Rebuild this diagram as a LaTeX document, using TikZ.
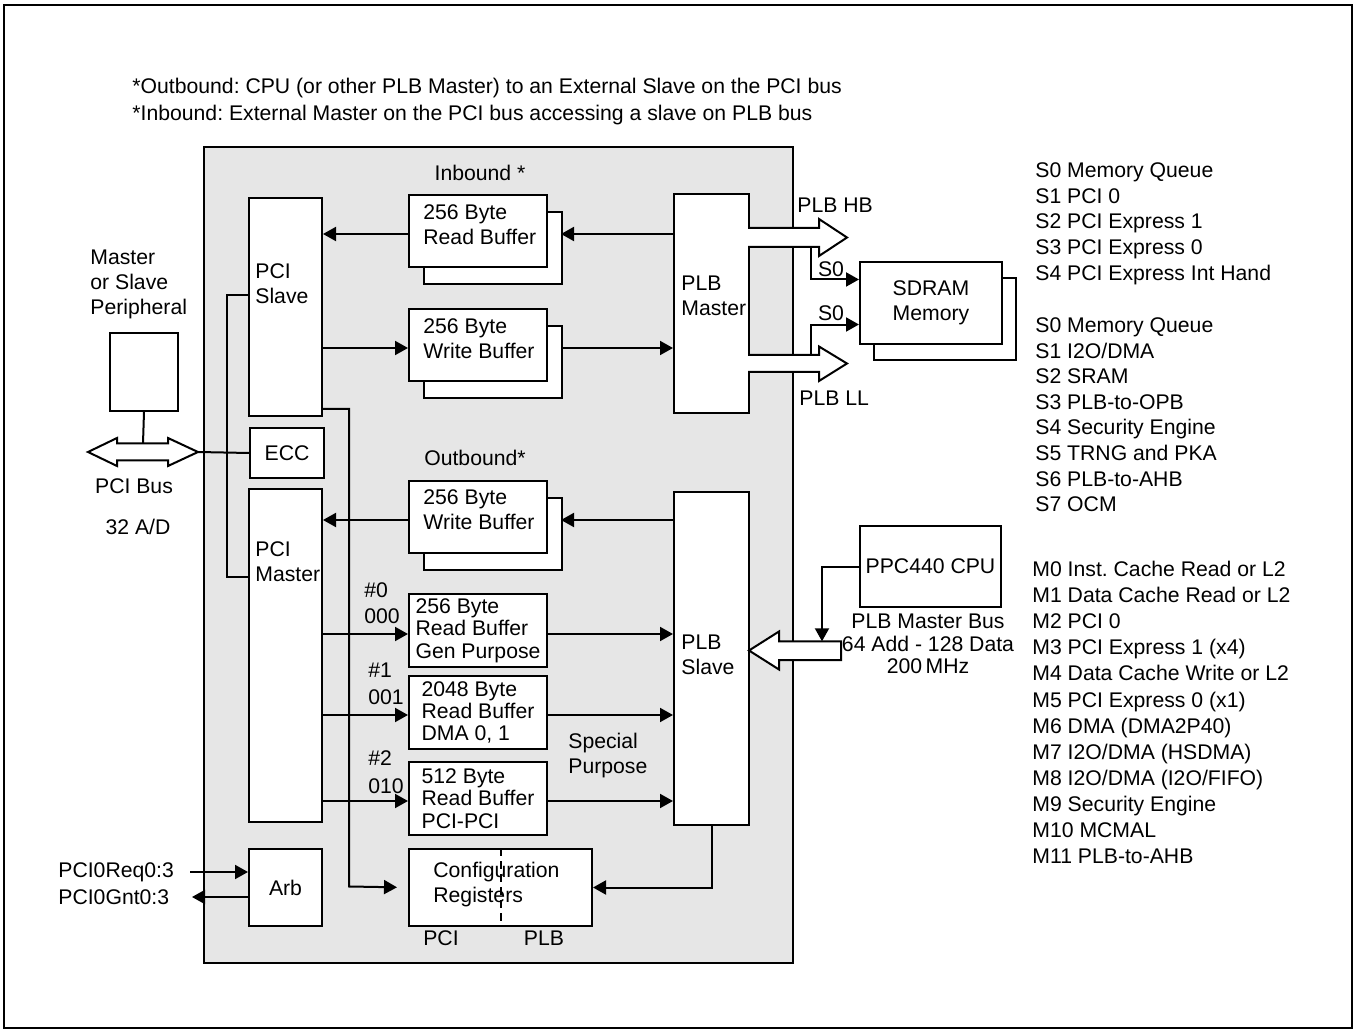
\documentclass[tikz,border=0pt]{standalone}
\usepackage{fontspec}
\setmainfont{Liberation Sans}
\usetikzlibrary{arrows.meta,positioning,shadows,calc}
\definecolor{panel}{HTML}{E6E6E6}
\frenchspacing
\newdimen\px
\px=0.5pt
\newcommand\diagfont{\fontsize{10.6}{12.5}\selectfont}
\newcommand\tightfont{\fontsize{10.6}{11.2}\selectfont}
\tikzset{
  blk/.style={rectangle, draw=black, fill=white, line width=1pt, inner sep=0pt, anchor=north west},
  bufbox/.style={blk, minimum width=138\px, minimum height=72\px,
                 copy shadow={shadow xshift=7.5pt, shadow yshift=-8.5pt, draw=black, fill=white, line width=1pt}},
  rdbuf/.style={blk, minimum width=138\px, minimum height=73\px, align=left, font=\tightfont},
  txt/.style={inner sep=0pt, align=left},
  flow/.style={-{Triangle[length=6.5pt,width=7pt]}, line width=1pt},
  wire/.style={line width=1pt},
  bus/.style={draw=black, fill=white, line width=1pt}
}

\begin{document}
\begin{tikzpicture}[x=0.5pt, y=-0.5pt, font=\diagfont]
  \useasboundingbox (0,0) rectangle (1356,1032);
  \draw[line width=1.2pt] (4,5) rectangle (1352,1028);

  % notes
  \node[txt, anchor=west] (noteout) at (132,88) {*Outbound: CPU (or other PLB Master) to an External Slave on the PCI bus};
  \node[txt, anchor=west] (notein) at (132,115) {*Inbound: External Master on the PCI bus accessing a slave on PLB bus};

  % chip
  \node[blk, fill=panel, minimum width=589\px, minimum height=816\px] (chip) at (203,146) {};

  % PCI side
  \node[blk, minimum width=73\px, minimum height=218\px] (pcis) at (248,197) {};
  \node[blk, minimum width=74\px, minimum height=50\px] (ecc) at (249,427) {ECC};
  \node[blk, minimum width=73\px, minimum height=333\px] (pcim) at (248,488) {};
  \node[blk, minimum width=73\px, minimum height=77\px] (arb) at (248,848) {Arb};
  \node[txt, anchor=west] (pcistxt) at (255,284) {PCI\\Slave};
  \node[txt, anchor=west] (pcimtxt) at (255,562) {PCI\\Master};

  % PLB side
  \node[blk, minimum width=75\px, minimum height=219\px] (plbm) at (673,193) {};
  \node[blk, minimum width=75\px, minimum height=333\px] (plbs) at (673,491) {};
  \node[txt, anchor=west] (plbmtxt) at (681,296) {PLB\\Master};
  \node[txt, anchor=west] (plbstxt) at (681,655) {PLB\\Slave};

  % buffers
  \node[txt] (inlbl) at (480,173) {Inbound *};
  \node[bufbox] (inrd) at (408,194) {};
  \node[bufbox] (inwr) at (408,308) {};
  \node[txt] (outlbl) at (475,458) {Outbound*};
  \node[bufbox] (outwr) at (408,480) {};
  \node[txt, anchor=west] (inrdtxt) at (423,224.5) {256 Byte\\Read Buffer};
  \node[txt, anchor=west] (inwrtxt) at (423,339) {256 Byte\\Write Buffer};
  \node[txt, anchor=west] (outwrtxt) at (423,509.5) {256 Byte\\Write Buffer};
  \node[rdbuf] (rb0) at (408,593) {256 Byte\\Read Buffer\\Gen Purpose};
  \node[rdbuf] (rb1) at (408,675) {2048 Byte\\Read Buffer\\DMA 0, 1};
  \node[rdbuf] (rb2) at (408,761) {512 Byte\\Read Buffer\\PCI-PCI};
  \node[txt, anchor=west] (n0) at (364,590) {\#0};
  \node[txt, anchor=west] (c0) at (364,616) {000};
  \node[txt, anchor=west] (n1) at (368,670) {\#1};
  \node[txt, anchor=west] (c1) at (368,697) {001};
  \node[txt, anchor=west] (n2) at (368,758) {\#2};
  \node[txt, anchor=west] (c2) at (368,786) {010};
  \node[txt, anchor=west] (spec) at (568,756) {Special\\Purpose};

  % config registers
  \node[blk, minimum width=183\px, minimum height=77\px] (cfg) at (408,848) {};
  \node[txt, anchor=west] (cfgtxt) at (433,884.5) {Configuration\\Registers};
  \draw[line width=1pt, dash pattern=on 4pt off 2.5pt] (cfg.north) -- (cfg.south);
  \node[txt] (cfgpci) at (441,938) {PCI};
  \node[txt] (cfgplb) at (544,938) {PLB};

  % outside
  \node[blk, minimum width=142\px, minimum height=82\px, align=center,
        copy shadow={shadow xshift=7pt, shadow yshift=-8pt, draw=black, fill=white, line width=1pt}] (sdram) at (859,261) {SDRAM\\Memory};
  \node[blk, minimum width=141\px, minimum height=81\px] (cpu) at (859,525) {PPC440 CPU};
  \node[blk, minimum width=68\px, minimum height=78\px] (periph) at (109,332) {};
  \node[txt, anchor=west] (periphtxt) at (90,284) {Master\\or Slave\\Peripheral};
  \node[txt] (pcibus) at (134,486) {PCI Bus};
  \node[txt] (pciad) at (138,527) {32 A/D};
  \node[txt, align=center, font=\fontsize{10.6}{11.2}\selectfont] (cpubus) at (928,644) {PLB Master Bus\\64 Add - 128 Data\\200\,MHz};
  \node[txt, anchor=west] (reqlbl) at (58,872) {PCI0Req0:3};
  \node[txt, anchor=west] (gntlbl) at (58,897) {PCI0Gnt0:3};

  % wide buses
  \draw[bus] (88,452) -- (117,438) -- (117,443.5) -- (168,443.5) -- (168,438) -- (198,452)
    -- (168,466) -- (168,460.5) -- (117,460.5) -- (117,466) -- cycle;
  \draw[bus] (748,228) -- (819,228) -- (819,219) -- (847,237.5) -- (819,256) -- (819,247) -- (748,247);
  \draw[bus] (748,355) -- (819,355) -- (819,346.5) -- (847,363.5) -- (819,381) -- (819,372) -- (748,372);
  \draw[bus] (749,650.5) -- (779,631.5) -- (779,641.3) -- (841,641.3) -- (841,660) -- (779,660) -- (779,669.5) -- cycle;
  \node[txt, anchor=west] (hblbl) at (797,205) {PLB HB};
  \node[txt, anchor=west] (lllbl) at (799,398) {PLB LL};
  \node[txt, anchor=south] (s0a) at (831,277) {S0};
  \node[txt, anchor=south] (s0b) at (831,321) {S0};

  \coordinate (bustop) at (143,443.5);
  \coordinate (busend) at (198,452);
  \coordinate (hbtap) at (811,247);
  \coordinate (lltap) at (811,355);
  \coordinate (cputap) at (822,641.3);
  \coordinate (reqin) at (190,872);
  \coordinate (gntout) at (192,897);

  % connectors
  \draw[wire] (periph.south) -- (bustop);
  \draw[wire] (busend) -- (ecc.west);
  \draw[wire] ($(pcis.north west)!0.445!(pcis.south west)$) -| (227,452) |- ($(pcim.north west)!0.267!(pcim.south west)$);
  \draw[flow, shorten >=11\px] ($(pcis.north east)!0.963!(pcis.south east)$) -| (349,886.5) -- (cfg.west);
  \draw[flow] (plbs.south) |- (cfg.east);
  \draw[flow] (plbm.west |- 0,234) -- +(-112,0);
  \draw[flow] (inrd.west |- 0,234) -- (pcis.east |- 0,234);
  \draw[flow] (pcis.east |- 0,348) -- (inwr.west |- 0,348);
  \draw[flow] ($(inwr.east |- 0,348)+(14,0)$) -- (plbm.west |- 0,348);
  \draw[flow] (plbs.west |- 0,520) -- +(-112,0);
  \draw[flow] (outwr.west |- 0,520) -- (pcim.east |- 0,520);
  \foreach \b/\y in {rb0/634, rb1/715, rb2/801} {
    \draw[flow] (pcim.east |- 0,\y) -- (\b.west |- 0,\y);
    \draw[flow] (\b.east |- 0,\y) -- (plbs.west |- 0,\y);
  }
  \draw[flow] (hbtap) |- ($(sdram.north west)!0.22!(sdram.south west)$);
  \draw[flow] (lltap) |- ($(sdram.north west)!0.756!(sdram.south west)$);
  \draw[flow] (cpu.west) -| (cputap);
  \draw[flow] (reqin) -- (arb.west |- reqin);
  \draw[flow] (arb.west |- gntout) -- (gntout);

  % target lists
  \foreach \t [count=\i from 0] in {S0 Memory Queue, S1 PCI 0, S2 PCI Express 1, S3 PCI Express 0, S4 PCI Express Int Hand}
    \node[txt, anchor=base west] (sa\i) at (1035,177.5+25.75*\i) {\t};
  \foreach \t [count=\i from 0] in {S0 Memory Queue, S1 I2O/DMA, S2 SRAM, S3 PLB-to-OPB, S4 Security Engine, S5 TRNG and PKA, S6 PLB-to-AHB, S7 OCM}
    \node[txt, anchor=base west] (sb\i) at (1035,332.5+25.6*\i) {\t};
  \foreach \t [count=\i from 0] in {M0 Inst. Cache Read or L2, M1 Data Cache Read or L2, M2 PCI 0, M3 PCI Express 1 (x4), M4 Data Cache Write or L2, M5 PCI Express 0 (x1), M6 DMA (DMA2P40), M7 I2O/DMA (HSDMA), M8 I2O/DMA (I2O/FIFO), M9 Security Engine, M10 MCMAL, M11 PLB-to-AHB}
    \node[txt, anchor=base west] (m\i) at (1032,576.5+26.1*\i) {\t};
\end{tikzpicture}
\end{document}
